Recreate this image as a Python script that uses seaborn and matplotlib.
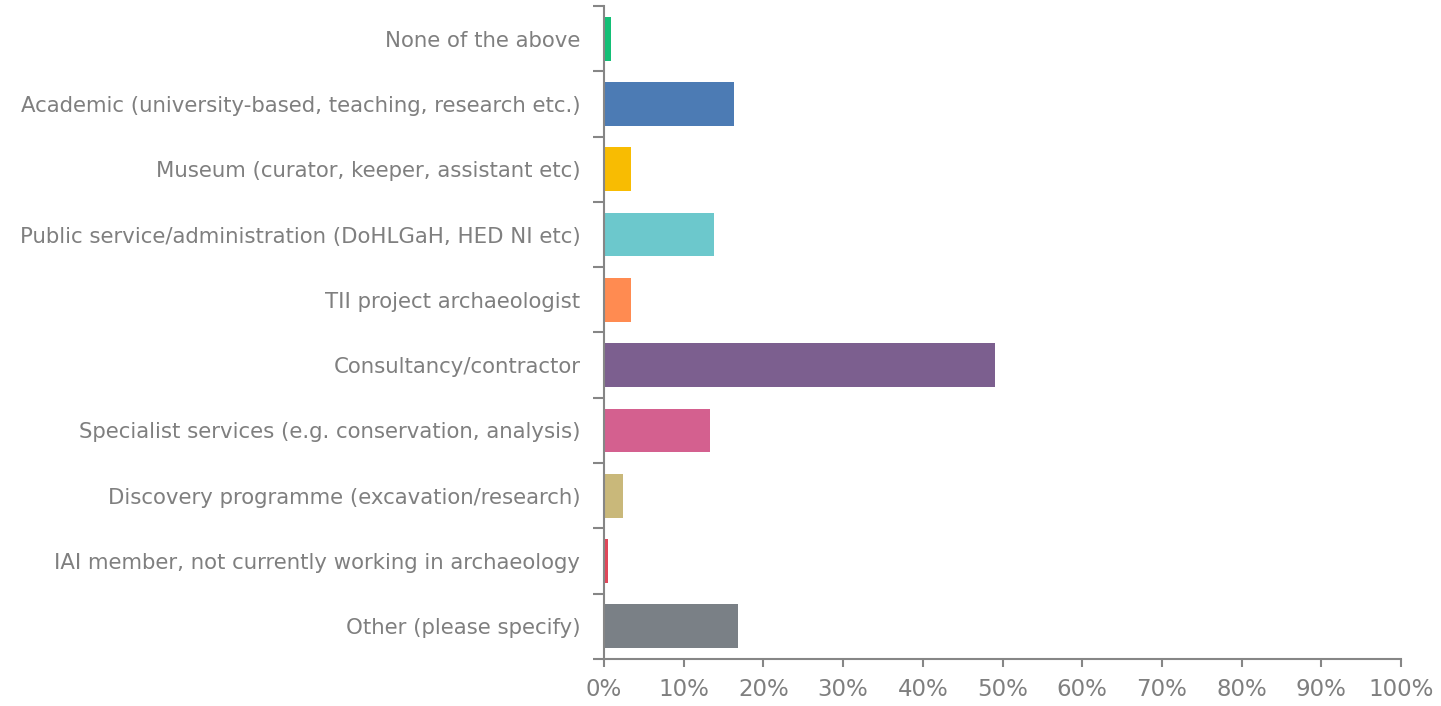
import matplotlib
matplotlib.use("Agg")
import matplotlib.pyplot as plt
import seaborn as sns
import numpy as np
import pandas as pd
from matplotlib.ticker import FuncFormatter, MultipleLocator

categories = [
    "None of the above",
    "Academic (university-based, teaching, research etc.)",
    "Museum (curator, keeper, assistant etc)",
    "Public service/administration (DoHLGaH, HED NI etc)",
    "TII project archaeologist",
    "Consultancy/contractor",
    "Specialist services (e.g. conservation, analysis)",
    "Discovery programme (excavation/research)",
    "IAI member, not currently working in archaeology",
    "Other (please specify)",
]
values = [0.9, 16.3, 3.4, 13.8, 3.4, 49.1, 13.3, 2.4, 0.55, 16.8]
colors = ["#13BF76", "#4C7BB4", "#F8BC02", "#6CC8CC", "#FF8B51",
          "#7C5F8F", "#D4608F", "#C9B87A", "#E0475A", "#7A8086"]

df = pd.DataFrame({"category": categories, "value": values})

sns.set_theme(style="white")
plt.rcParams['font.family'] = ['DejaVu Sans']

fig = plt.figure(figsize=(14.41, 7.06), dpi=100)
ax = fig.add_axes([604/1441, 1 - 659/706, (1401-604)/1441, (659-6)/706])

sns.barplot(data=df, x="value", y="category", hue="category", palette=colors,
            order=categories, hue_order=categories, legend=False,
            width=0.67, saturation=1, linewidth=0, ax=ax)

grey = "#868686"
txt = "#7F7F7F"
ax.set_xlim(0, 100)
ax.set_ylim(len(categories) - 0.5, -0.5)
ax.xaxis.set_major_locator(MultipleLocator(10))
ax.xaxis.set_major_formatter(FuncFormatter(lambda v, p: f"{int(round(v))}%"))
ax.set_xlabel("")
ax.set_ylabel("")

for s in ["top", "right"]:
    ax.spines[s].set_visible(False)
for s in ["left", "bottom"]:
    ax.spines[s].set_color(grey)
    ax.spines[s].set_linewidth(1.5)

ax.set_yticks(np.arange(-0.5, len(categories), 1), minor=True)
ax.tick_params(axis="x", which="major", bottom=True, direction="out", length=6, width=1.5,
               color=grey, labelcolor=txt, labelsize=16.5, pad=8)
ax.tick_params(axis="x", which="minor", bottom=False, length=0)
ax.tick_params(axis="y", which="major", left=False, length=0, labelcolor=txt,
               labelsize=15.3, pad=17)
ax.tick_params(axis="y", which="minor", left=True, direction="out", length=8,
               width=1.5, color=grey)

fig.savefig("out.png", dpi=100)
